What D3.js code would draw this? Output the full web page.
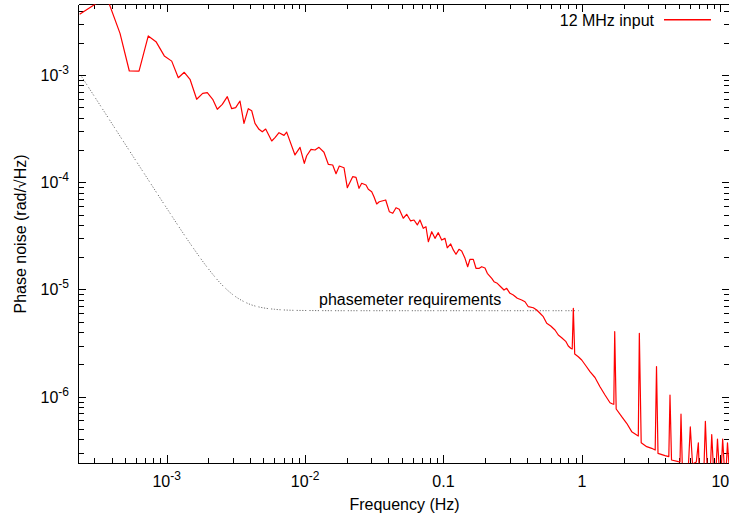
<!DOCTYPE html>
<html>
<head>
<meta charset="utf-8">
<script src="https://cdn.jsdelivr.net/npm/d3@7"></script>
<style>
body { margin: 0; background: #fff; }
text { font-family: "Liberation Sans", Arial, sans-serif; font-size: 16px; fill: #000; }
</style>
</head>
<body>
<svg id="chart" width="729" height="519"></svg>
<script>
// measured spectrum, [frequency Hz, rad/sqrt(Hz)]
const inputSpectrum = [
	[2.35e-4, 3.69e-3], [3.68e-4, 5.38e-3], [4.60e-4, 2.45e-3], [5.37e-4, 1.092e-3], [6.31e-4, 1.09e-3],
	[7.36e-4, 2.32e-3], [8.37e-4, 2.05e-3], [9.61e-4, 1.51e-3], [1.087e-3, 1.35e-3], [1.213e-3, 9.46e-4],
	[1.340e-3, 1.062e-3], [1.474e-3, 9.14e-4], [1.647e-3, 5.95e-4], [1.820e-3, 6.76e-4], [1.965e-3, 6.85e-4],
	[2.150e-3, 5.95e-4], [2.321e-3, 4.80e-4], [2.522e-3, 5.34e-4], [2.741e-3, 6.29e-4], [2.950e-3, 4.86e-4],
	[3.151e-3, 4.97e-4], [3.385e-3, 5.73e-4], [3.618e-3, 3.55e-4], [3.887e-3, 4.86e-4], [4.114e-3, 4.65e-4],
	[4.345e-3, 3.55e-4], [4.645e-3, 3.12e-4], [4.905e-3, 2.96e-4], [5.19e-3, 3.14e-4], [5.74e-3, 2.43e-4],
	[6.06e-3, 2.61e-4], [6.48e-3, 2.90e-4], [7.04e-3, 2.74e-4], [7.36e-3, 2.94e-4], [8.45e-3, 1.80e-4],
	[9.19e-3, 2.12e-4], [9.87e-3, 1.504e-4], [1.027e-2, 1.77e-4], [1.103e-2, 2.03e-4], [1.179e-2, 2.00e-4],
	[1.260e-2, 2.12e-4], [1.369e-2, 1.905e-4], [1.471e-2, 1.472e-4], [1.583e-2, 1.45e-4], [1.673e-2, 1.203e-4],
	[1.767e-2, 1.419e-4], [1.910e-2, 1.368e-4], [2.018e-2, 8.91e-5], [2.207e-2, 1.128e-4], [2.333e-2, 1.113e-4],
	[2.452e-2, 8.79e-5], [2.564e-2, 9.79e-5], [2.754e-2, 9.44e-5], [2.862e-2, 8.60e-5], [3.029e-2, 8.17e-5],
	[3.146e-2, 7.34e-5], [3.291e-2, 6.28e-5], [3.436e-2, 6.59e-5], [3.823e-2, 6.84e-5], [4.06e-2, 5.32e-5],
	[4.30e-2, 5.14e-5], [4.54e-2, 5.79e-5], [4.79e-2, 5.60e-5], [5.12e-2, 4.62e-5], [5.42e-2, 5.03e-5],
	[5.79e-2, 4.36e-5], [6.12e-2, 4.45e-5], [6.47e-2, 4.00e-5], [6.76e-2, 4.45e-5], [7.14e-2, 3.72e-5],
	[7.47e-2, 3.85e-5], [7.77e-2, 2.79e-5], [8.22e-2, 3.46e-5], [8.68e-2, 3.00e-5], [9.17e-2, 3.39e-5],
	[9.70e-2, 2.89e-5], [0.1025, 3.00e-5], [0.1065, 2.45e-5], [0.1127, 2.66e-5], [0.1177, 2.34e-5],
	[0.1231, 2.13e-5], [0.1294, 2.37e-5], [0.1353, 2.29e-5], [0.1430, 1.954e-5], [0.1495, 1.632e-5],
	[0.1554, 1.913e-5], [0.1642, 1.913e-5], [0.1717, 1.577e-5], [0.1814, 1.577e-5], [0.1888, 1.632e-5],
	[0.1994, 1.587e-5], [0.2073, 1.416e-5], [0.2231, 1.272e-5], [0.2317, 1.183e-5], [0.2447, 1.142e-5],
	[0.2590, 1.062e-5], [0.2736, 9.89e-6], [0.2861, 1.026e-5], [0.3023, 9.21e-6], [0.3194, 8.89e-6],
	[0.3415, 8.28e-6], [0.3673, 7.98e-6], [0.3880, 7.69e-6], [0.4100, 6.91e-6], [0.4455, 6.76e-6],
	[0.4715, 6.44e-6], [0.4982, 6.00e-6], [0.5261, 5.58e-6], [0.5569, 4.84e-6], [0.5952, 4.56e-6],
	[0.6392, 4.19e-6], [0.6753, 3.76e-6], [0.7145, 3.55e-6], [0.7675, 3.26e-6], [0.7973, 2.97e-6],
	[0.8299, 2.83e-6], [0.851, 2.79e-6], [0.867, 6.68e-6], [0.8872, 2.50e-6], [0.9419, 2.36e-6],
	[0.9966, 2.20e-6], [1.071, 1.934e-6], [1.144, 1.711e-6], [1.243, 1.511e-6], [1.351, 1.240e-6],
	[1.469, 1.037e-6], [1.596, 8.79e-7], [1.669, 8.55e-7], [1.70, 8.5e-7], [1.726, 4.04e-6],
	[1.769, 7.68e-7], [1.939, 6.51e-7], [2.107, 5.65e-7], [2.290, 4.72e-7], [2.489, 4.39e-7],
	[2.556, 4.30e-7], [2.60, 3.905e-6], [2.682, 3.72e-7], [2.939, 3.42e-7], [3.194, 3.30e-7],
	[3.385, 3.18e-7], [3.46, 1.914e-6], [3.547, 2.96e-7], [3.987, 2.82e-7], [4.246, 2.76e-7],
	[4.33, 1.037e-6], [4.441, 2.57e-7], [4.971, 2.48e-7], [5.115, 2.46e-7], [5.20, 6.87e-7],
	[5.31, 2.35e-7], [5.89, 2.35e-7], [6.07, 5.22e-7], [6.30, 2.35e-7], [6.71, 2.46e-7],
	[6.94, 3.72e-7], [7.02, 2.3e-7], [7.63, 2.3e-7], [7.80, 5.90e-7], [8.02, 2.3e-7],
	[8.50, 2.3e-7], [8.67, 4.44e-7], [8.90, 2.3e-7], [9.34, 2.3e-7], [9.54, 4.02e-7],
	[9.79, 2.3e-7], [10.19, 2.3e-7], [10.4, 4.02e-7], [10.67, 2.3e-7], [11.05, 2.3e-7],
	[11.27, 3.72e-7], [11.56, 2.3e-7]
];

// phasemeter requirement curve, [frequency Hz, rad/sqrt(Hz)]
const requirement = [
	[2.43e-4, 9.66e-4], [3.5e-4, 4.66e-4], [5e-4, 2.28e-4], [7e-4, 1.166e-4], [1e-3, 5.74e-5],
	[1.5e-3, 2.61e-5], [2e-3, 1.56e-5], [2.5e-3, 1.11e-5], [3e-3, 8.97e-6], [4e-3, 7.27e-6],
	[5e-3, 6.74e-6], [6e-3, 6.54e-6], [8e-3, 6.40e-6], [1e-2, 6.37e-6], [2e-2, 6.34e-6], [0.95, 6.34e-6]
];

const xTickValues = [1e-3, 1e-2, 0.1, 1, 10];
const xTickBase = ["10", "10", "0.1", "1", "10"];
const xTickExp = ["-3", "-2", "", "", ""];
const yTickValues = [1e-6, 1e-5, 1e-4, 1e-3];
const yTickBase = ["10", "10", "10", "10"];
const yTickExp = ["-6", "-5", "-4", "-3"];

const plot = { left: 78.3, right: 730, top: 4.3, bottom: 463.3 };

let svg = d3.select('#chart');

let xScale = d3.scaleLog()
	.domain([2.298e-4, 11.75])
	.range([plot.left, plot.right]);

let yScale = d3.scaleLog()
	.domain([2.392e-7, 4.575e-3])
	.range([plot.bottom, plot.top]);

function isMajor(v){
	let l = Math.log10(v);
	return Math.abs(l - Math.round(l)) < 1e-9;
}

let xMinor = xScale.ticks().filter(d => !isMajor(d));
let yMinor = yScale.ticks().filter(d => !isMajor(d));

function addAxis(axisFn, scale, values, size, transform, keepDomain){
	let g = svg.append('g')
		.attr('transform', transform)
		.call(axisFn(scale).tickValues(values).tickSize(-size).tickSizeOuter(0).tickFormat(''));
	g.selectAll('line').attr('stroke', '#000').attr('shape-rendering', 'crispEdges');
	g.select('.domain').attr('stroke', keepDomain ? '#000' : 'none').attr('shape-rendering', 'crispEdges');
	return g;
}

// ticks on all four sides, pointing in
addAxis(d3.axisBottom, xScale, xMinor, 5, `translate(0,${plot.bottom})`, false);
addAxis(d3.axisBottom, xScale, xTickValues, 8, `translate(0,${plot.bottom})`, true);
addAxis(d3.axisTop, xScale, xMinor, 5, `translate(0,${plot.top})`, false);
addAxis(d3.axisTop, xScale, xTickValues, 8, `translate(0,${plot.top})`, true);
addAxis(d3.axisLeft, yScale, yMinor, 6, `translate(${plot.left},0)`, false);
addAxis(d3.axisLeft, yScale, yTickValues, 8, `translate(${plot.left},0)`, true);
addAxis(d3.axisRight, yScale, yMinor, 6, `translate(${plot.right},0)`, false);
addAxis(d3.axisRight, yScale, yTickValues, 8, `translate(${plot.right},0)`, true);

// tick labels with superscript exponents
let xLab = svg.append('g').selectAll('text')
	.data(xTickValues)
	.join('text')
	.attr('x', d => xScale(d))
	.attr('y', 487)
	.attr('text-anchor', 'middle');
xLab.append('tspan').text((d, i) => xTickBase[i]);
xLab.append('tspan')
	.attr('dy', -7)
	.style('font-size', '12px')
	.text((d, i) => xTickExp[i]);

let yLab = svg.append('g').selectAll('text')
	.data(yTickValues)
	.join('text')
	.attr('x', 69)
	.attr('y', d => yScale(d) + 6)
	.attr('text-anchor', 'end');
yLab.append('tspan').text((d, i) => yTickBase[i]);
yLab.append('tspan')
	.attr('dy', -7)
	.style('font-size', '12px')
	.text((d, i) => yTickExp[i]);

// axis titles
svg.append('text')
	.attr('x', 404.5)
	.attr('y', 510)
	.attr('text-anchor', 'middle')
	.text('Frequency (Hz)');

svg.append('text')
	.attr('transform', 'translate(26,234) rotate(-90)')
	.attr('text-anchor', 'middle')
	.text('Phase noise (rad/\u221AHz)');

// curves, clipped to the frame
svg.append('clipPath')
	.attr('id', 'plotClip')
	.append('rect')
	.attr('x', plot.left)
	.attr('y', plot.top)
	.attr('width', plot.right - plot.left)
	.attr('height', plot.bottom - plot.top);

let curves = svg.append('g').attr('clip-path', 'url(#plotClip)');

let reqLine = d3.line()
	.x(d => xScale(d[0]))
	.y(d => yScale(d[1]))
	.curve(d3.curveMonotoneX);

curves.append('path')
	.datum(requirement)
	.attr('d', reqLine)
	.attr('fill', 'none')
	.attr('stroke', '#707070')
	.attr('stroke-width', 1)
	.attr('stroke-dasharray', '1.2,1.6,1.2,1.6,1.2,1.6,1.2,3.2');

let specLine = d3.line()
	.x(d => xScale(d[0]))
	.y(d => yScale(d[1]));

curves.append('path')
	.datum(inputSpectrum)
	.attr('d', specLine)
	.attr('fill', 'none')
	.attr('stroke', '#ff0000')
	.attr('stroke-width', 1.2)
	.attr('stroke-linejoin', 'round');

svg.append('text')
	.attr('x', 319)
	.attr('y', 305)
	.text('phasemeter requirements');

// legend
svg.append('text')
	.attr('x', 654)
	.attr('y', 26)
	.attr('text-anchor', 'end')
	.text('12 MHz input');

svg.append('rect')
	.attr('x', 664)
	.attr('y', 19)
	.attr('width', 47)
	.attr('height', 1.5)
	.attr('fill', '#ff0000');
</script>
</body>
</html>
